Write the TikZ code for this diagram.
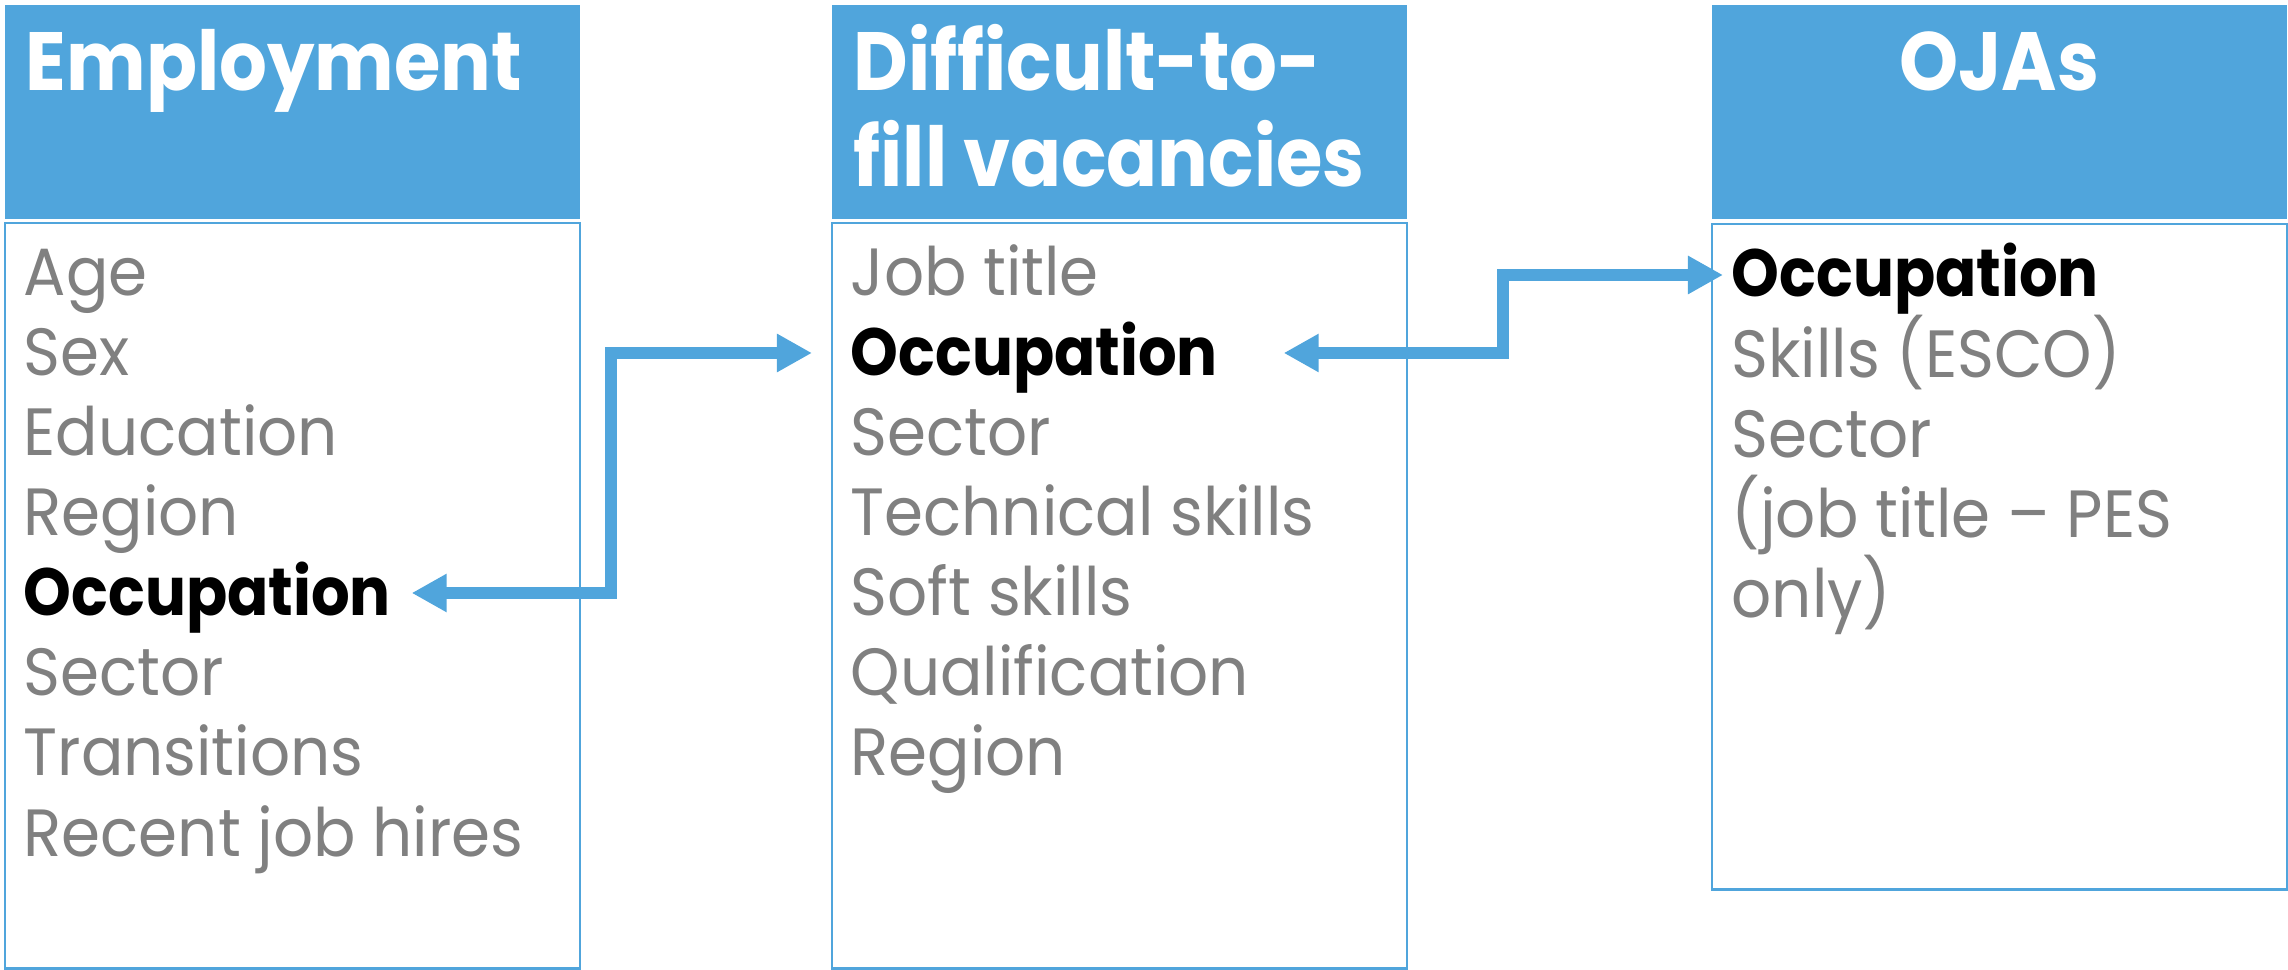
\documentclass[tikz,border=0pt]{standalone}
\usepackage{fontspec}
\setmainfont{Poppins}[FakeStretch=0.94, BoldFeatures={FakeStretch=0.91}]
\usetikzlibrary{arrows.meta}

\definecolor{ojablue}{RGB}{80,165,220}
\definecolor{itemgrey}{RGB}{128,128,128}

\tikzset{
    headbox/.style={fill=ojablue, draw=none, inner sep=0pt, anchor=north west,
        minimum width=5.75cm, minimum height=2.14cm},
    listbox/.style={draw=ojablue, line width=0.6pt, inner sep=0pt, anchor=north west,
        minimum width=5.75cm},
    headtext/.style={text=white, inner sep=0pt, anchor=base west, align=left,
        font=\fontsize{23.5}{27.3}\selectfont\bfseries},
    item/.style={text=itemgrey, inner sep=0pt, anchor=base west,
        text height=0.44cm, text depth=0pt, font=\fontsize{19}{22.8}\selectfont},
    keyitem/.style={item, text=black, font=\fontsize{19}{22.8}\selectfont\bfseries},
    link/.style={draw=ojablue, line width=0.115cm,
        {Triangle[length=0.35cm,width=0.36cm]}-{Triangle[length=0.35cm,width=0.36cm]}}
}

\begin{document}
\begin{tikzpicture}[x=0.01cm, y=-0.01cm]

    % Page size
    \useasboundingbox (0,0) rectangle (2288,970);

    % Header boxes
    \node[headbox] (emp-head) at (4,4) {};        % Employment
    \node[headbox] (dtf-head) at (831,4) {};      % Difficult-to-fill vacancies
    \node[headbox] (oja-head) at (1711,4) {};     % OJAs

    % List boxes
    \node[listbox, minimum height=7.45cm] (emp-list) at (4,222) {};
    \node[listbox, minimum height=7.45cm] (dtf-list) at (831,222) {};
    \node[listbox, minimum height=6.65cm] (oja-list) at (1711,223) {};

    % Header titles (base of the last line)
    \node[headtext] (emp-title) at (25,91) {Employment};
    \node[headtext] (dtf-title) at (853,187) {Difficult-to-\\fill vacancies};
    \node[headtext, anchor=base] (oja-title) at (1999,91) {OJAs};

    % Employment variables
    \node[item] (emp-age) at (23,295) {Age};
    \node[item] (emp-sex) at (23,375) {Sex};
    \node[item] (emp-edu) at (23,455) {Education};
    \node[item] (emp-reg) at (23,535) {Region};
    \node[keyitem] (emp-occ) at (23,615) {Occupation};
    \node[item] (emp-sec) at (23,695) {Sector};
    \node[item] (emp-tra) at (23,775) {Transitions};
    \node[item] (emp-hir) at (23,856) {Recent job hires};

    % Difficult-to-fill vacancy variables
    \node[item] (dtf-job) at (850,295) {Job title};
    \node[keyitem] (dtf-occ) at (850,375) {Occupation};
    \node[item] (dtf-sec) at (850,455) {Sector};
    \node[item] (dtf-tec) at (850,535) {Technical skills};
    \node[item] (dtf-sof) at (850,615) {Soft skills};
    \node[item] (dtf-qua) at (850,695) {Qualification};
    \node[item] (dtf-reg) at (850,775) {Region};

    % OJA variables
    \node[keyitem] (oja-occ) at (1731,297) {Occupation};
    \node[item] (oja-ski) at (1731,377) {Skills (ESCO)};
    \node[item] (oja-sec) at (1731,457) {Sector};
    \node[item] (oja-job) at (1731,537) {(job title – PES};
    \node[item] (oja-onl) at (1731,617) {only)};

    % Bends of the links
    \coordinate (bendA) at (611,0);
    \coordinate (bendB) at (1503,0);

    % Link ends
    \coordinate (endA1) at ([xshift=0.2cm]emp-occ.east);
    \coordinate (endA2) at ([xshift=-0.38cm]dtf-occ.west);
    \coordinate (endB1) at ([xshift=0.65cm]dtf-occ.east);
    \coordinate (endB2) at ([xshift=-0.08cm]oja-occ.west);

    % Occupation links
    \draw[link] (endA1) -| (bendA |- endA2) -- (endA2);
    \draw[link] (endB1) -| (bendB |- endB2) -- (endB2);

\end{tikzpicture}
\end{document}
